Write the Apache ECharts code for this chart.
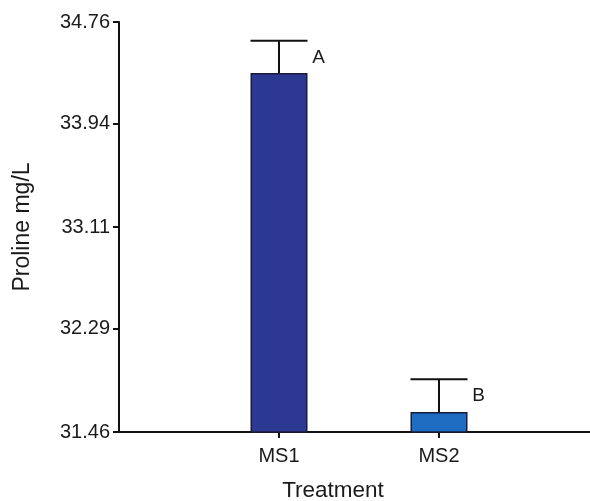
<!DOCTYPE html>
<html>
<head>
<meta charset="utf-8">
<script src="https://cdn.jsdelivr.net/npm/echarts@6/dist/echarts.min.js"></script>
<style>html,body{margin:0;padding:0;background:#fff}#c{width:590px;height:501px}</style>
</head>
<body>
<div id="c"></div>
<script>
const categories = ['MS1', 'MS2'];
const means = [34.35, 31.62];
const upper = [34.61, 31.885];
const letters = ['A', 'B'];
const yTicks = [31.46, 32.29, 33.11, 33.94, 34.76];
const barColors = ['#2c3891', '#1f6dc2'];

const FONT = '"Liberation Sans", Arial, sans-serif';
const BAR_W = 57;

const axisCats = [''].concat(categories, ['']);
const barData = [null].concat(means.map((v, i) => ({ value: v, itemStyle: { color: barColors[i] } })), [null]);
const errData = categories.map((c, i) => [i + 1, means[i], upper[i], letters[i]]);

const chart = echarts.init(document.getElementById('c'), null, { renderer: 'canvas' });
chart.setOption({
  animation: false,
  backgroundColor: '#fff',
  grid: { left: 119, top: 22, width: 480, height: 410, containLabel: false, outerBoundsMode: 'none' },
  xAxis: {
    type: 'category',
    data: axisCats,
    boundaryGap: false,
    axisLine: { lineStyle: { color: '#111', width: 2 } },
    axisTick: { show: true, length: 6, inside: false, interval: (i) => i === 1 || i === 2, lineStyle: { color: '#111', width: 2 } },
    axisLabel: { interval: 0, margin: 14, fontFamily: FONT, fontSize: 20, color: '#1a1a1a' },
    splitLine: { show: false }
  },
  yAxis: {
    type: 'value',
    min: 31.46,
    max: 34.76,
    name: 'Proline mg/L',
    nameLocation: 'middle',
    nameRotate: 90,
    nameGap: 85,
    nameTextStyle: { fontFamily: FONT, fontSize: 23, color: '#1a1a1a' },
    axisLine: { show: true, lineStyle: { color: '#111', width: 2 } },
    axisTick: { show: true, length: 6, customValues: yTicks, lineStyle: { color: '#111', width: 2 } },
    axisLabel: { customValues: yTicks, margin: 9, fontFamily: FONT, fontSize: 20, color: '#1a1a1a', formatter: (v) => v.toFixed(2) },
    splitLine: { show: false }
  },
  graphic: [{
    type: 'text', x: 333, y: 491,
    style: { text: 'Treatment', textAlign: 'center', textVerticalAlign: 'middle', font: '22.5px ' + FONT, fill: '#1a1a1a' }
  }],
  series: [
    {
      type: 'bar',
      data: barData,
      barWidth: BAR_W,
      itemStyle: { borderColor: '#1b1b3a', borderWidth: 1.5 },
      z: 2
    },
    {
      type: 'custom',
      data: errData,
      z: 3,
      renderItem: function (params, api) {
        const x = api.value(0);
        const top = api.coord([x, api.value(1)]);
        const cap = api.coord([x, api.value(2)]);
        const hw = BAR_W / 2;
        const st = { stroke: '#111', lineWidth: 2 };
        return {
          type: 'group',
          children: [
            { type: 'line', shape: { x1: top[0], y1: top[1], x2: cap[0], y2: cap[1] }, style: st },
            { type: 'line', shape: { x1: cap[0] - hw, y1: cap[1], x2: cap[0] + hw, y2: cap[1] }, style: st },
            { type: 'text', x: cap[0] + hw + 11, y: cap[1] + 17,
              style: { text: api.value(3), textAlign: 'center', textVerticalAlign: 'middle', font: '19px ' + FONT, fill: '#1a1a1a' } }
          ]
        };
      }
    }
  ]
});
</script>
</body>
</html>
